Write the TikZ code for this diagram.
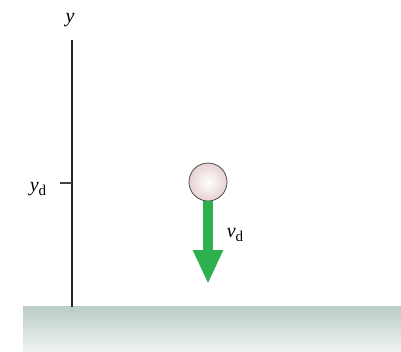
\documentclass[tikz,border=0pt]{standalone}
\usepackage{fontspec}
\setmainfont{Liberation Serif}
\usetikzlibrary{arrows.meta}
\definecolor{arrowgreen}{HTML}{2DB04E}
\definecolor{groundtop}{HTML}{BCCCC8}
\definecolor{groundbot}{HTML}{EEF3F2}
\definecolor{ballout}{HTML}{E6D2D0}
\newcommand{\subd}{\raisebox{-0.45ex}{\fontsize{15}{15}\selectfont\upshape d}}
\tikzset{
  lbl/.style={font=\fontsize{20}{22}\selectfont\itshape, inner sep=0pt},
  axisline/.style={line width=1.6pt, black!85},
}
\begin{document}
\begin{tikzpicture}[x=1pt,y=-1pt]
\useasboundingbox (0,0) rectangle (401,351);
% ground
\fill[top color=groundtop, bottom color=groundbot] (23,306) rectangle (401,351);
% axis
\coordinate (axtop) at (72,40);
\coordinate (axbot) at (72,307);
\draw[axisline] (axtop) -- (axbot);
\node[lbl] (ylab) at (70,20) {y};
% tick
\coordinate (tickL) at (60,183);
\coordinate (tickR) at (72,183);
\draw[line width=1.6pt, black!75] (tickL) -- (tickR);
\node[lbl] (ydlab) at (38,189) {y\subd};
% ball
\node[circle, minimum size=38pt, inner sep=0pt, draw=black!70, line width=0.8pt,
      inner color=white, outer color=ballout] (ball) at (208,182) {};
% arrow
\coordinate (tip) at (208,284);
\draw[arrowgreen, line width=10pt, -{Triangle[width=28pt,length=34pt]}] (ball.south) -- (tip);
\node[lbl] (vdlab) at (235,235) {v\subd};
\end{tikzpicture}
\end{document}
